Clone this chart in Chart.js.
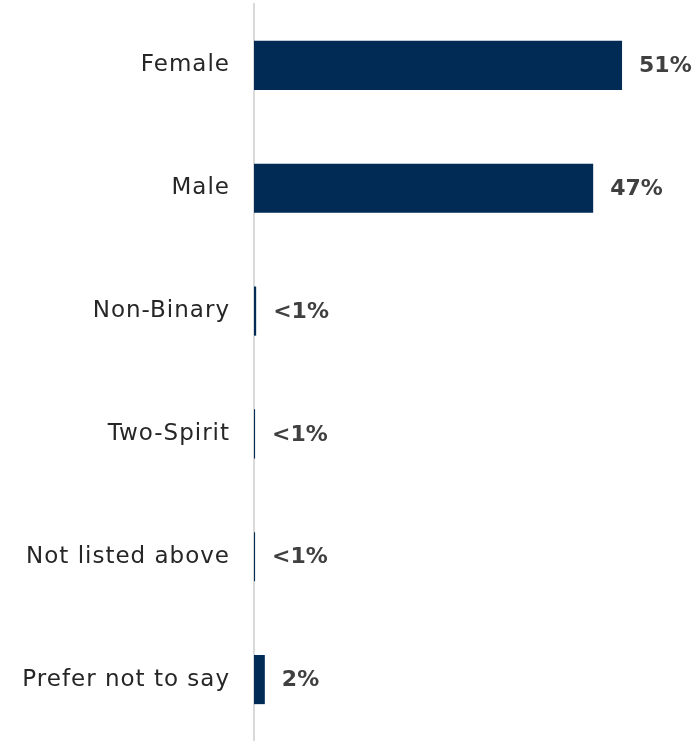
<!DOCTYPE html>
<html>
<head>
<meta charset="utf-8">
<script src="https://cdn.jsdelivr.net/npm/chart.js@4/dist/chart.umd.min.js"></script>
<style>
  html, body { margin: 0; padding: 0; background: #fff; }
  #wrap { width: 694px; height: 741px; }
</style>
</head>
<body>
<div id="wrap"><canvas id="genderChart" width="694" height="741"></canvas></div>
<script>
var categories = ['Female', 'Male', 'Non-Binary', 'Two-Spirit', 'Not listed above', 'Prefer not to say'];
var values = [51, 47, 0.3, 0.15, 0.15, 1.5];
var valueLabels = ['51%', '47%', '<1%', '<1%', '<1%', '2%'];

// a little extra letter spacing so the labels look closer to the wide original font
var wideText = {
  id: 'wideText',
  beforeDraw: function(chart) {
    chart.ctx.letterSpacing = '1px';
  }
};

// draws the % text just past the end of each bar
var barValues = {
  id: 'barValues',
  afterDatasetsDraw: function(chart) {
    var ctx = chart.ctx;
    var meta = chart.getDatasetMeta(0);
    ctx.save();
    ctx.letterSpacing = '0px';
    ctx.font = 'bold 22px "DejaVu Sans"';
    ctx.fillStyle = '#404040';
    ctx.textAlign = 'left';
    ctx.textBaseline = 'middle';
    meta.data.forEach(function(bar, i) {
      ctx.fillText(valueLabels[i], bar.x + 17, bar.y + 1);
    });
    ctx.restore();
  }
};

var ctx = document.getElementById('genderChart');

var chart = new Chart(ctx, {
  type: 'bar',
  data: {
    labels: categories,
    datasets: [{
      data: values,
      backgroundColor: '#012b54',
      categoryPercentage: 1,
      barPercentage: 0.4
    }]
  },
  options: {
    indexAxis: 'y',
    responsive: false,
    animation: false,
    layout: { padding: { top: 4, right: 7, bottom: 0, left: 0 } },
    plugins: {
      legend: { display: false },
      tooltip: { enabled: false }
    },
    scales: {
      x: {
        display: false,
        min: 0,
        max: 60
      },
      y: {
        afterFit: function(scale) {
          scale.width = 254;
          scale.paddingTop = 0;
          scale.paddingBottom = 0;
        },
        grid: { display: false, drawTicks: false },
        border: { display: true, color: '#d9d9d9', width: 2 },
        ticks: {
          padding: 24,
          color: '#262626',
          font: { family: 'DejaVu Sans', size: 23 }
        }
      }
    }
  },
  plugins: [wideText, barValues]
});
</script>
</body>
</html>
